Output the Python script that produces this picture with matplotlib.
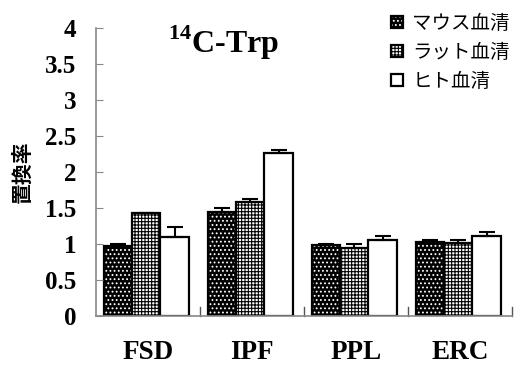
import matplotlib
matplotlib.use("Agg")
import matplotlib.pyplot as plt
import numpy as np
from matplotlib.legend_handler import HandlerTuple

categories = ["FSD", "IPF", "PPL", "ERC"]
series_names = ["マウス血清", "ラット血清", "ヒト血清"]
mouse = [0.97, 1.44, 0.98, 1.03]
mouse_err = [0.03, 0.06, 0.02, 0.025]
rat = [1.43, 1.59, 0.95, 1.02]
rat_err = [0.0, 0.03, 0.05, 0.03]
human = [1.10, 2.26, 1.05, 1.11]
human_err = [0.13, 0.05, 0.06, 0.06]
yticks = [0, 0.5, 1, 1.5, 2, 2.5, 3, 3.5, 4]
yticklabels = ["0", "0.5", "1", "1.5", "2", "2.5", "3", "3.5", "4"]

plt.rcParams['hatch.linewidth'] = 0.8
plt.rcParams['mathtext.fontset'] = 'custom'
plt.rcParams['mathtext.bf'] = 'Liberation Serif:bold'
plt.rcParams['mathtext.rm'] = 'Liberation Serif:bold'
serif = ['Liberation Serif', 'DejaVu Serif']
cjk = ['Noto Sans CJK JP', 'DejaVu Sans']

fig = plt.figure(figsize=(5.17, 3.67), dpi=100)
ax = fig.add_axes([96/517, 51/367, 416/517, 288/367])

x = np.arange(len(categories))
w = 0.27
offs = [-w, 0, w]
handles = []
for vals, errs, off, kind in zip([mouse, rat, human], [mouse_err, rat_err, human_err], offs, ['m', 'r', 'h']):
    pos = x + off - 0.015
    if kind == 'm':
        b1 = ax.bar(pos, vals, w, facecolor='black', edgecolor='white', hatch='....', linewidth=0)
    elif kind == 'r':
        b1 = ax.bar(pos, vals, w, facecolor='white', edgecolor='black', hatch='+++++', linewidth=0)
    else:
        b1 = ax.bar(pos, vals, w, facecolor='white', linewidth=0)
    b2 = ax.bar(pos, vals, w, fill=False, edgecolor='black', linewidth=1.6)
    ax.errorbar(pos, vals, yerr=[np.zeros(len(errs)), errs], fmt='none', ecolor='black',
                elinewidth=1.5, capsize=5.5, capthick=1.5)
    handles.append((b1[0], b2[0]))

ax.set_xlim(-0.5, 3.5)
ax.set_ylim(0, 4)
ax.set_yticks(yticks)
ax.set_yticklabels(yticklabels, fontfamily=serif, fontweight='bold', fontsize=18)
ax.set_xticks(x)
ax.set_xticklabels(categories, fontfamily=serif, fontweight='bold', fontsize=19.5)
ax.tick_params(axis='x', length=0, pad=17)
ax.tick_params(axis='y', direction='in', length=5, color='#888888', pad=14)
for xb in [0.5, 1.5, 2.5, 3.5]:
    ax.plot([xb, xb], [0, 0.12], color='#555555', lw=1, clip_on=False)
for s in ['top', 'right']:
    ax.spines[s].set_visible(False)
for s in ['left', 'bottom']:
    ax.spines[s].set_color('#888888')
    ax.spines[s].set_linewidth(1.2)

ax.set_ylabel("置換率", fontfamily=cjk, fontsize=15, fontweight='bold', labelpad=9)

fig.text(224/517, 1 - 43/367, r"$^{\mathbf{14}}$C-Trp", fontfamily=serif, fontweight='bold',
         fontsize=23, ha='center', va='center')

leg = fig.legend(handles, series_names, loc='upper left', bbox_to_anchor=(391/517, 1 - 13/367),
                 frameon=False, prop={'family': cjk, 'size': 14},
                 handler_map={tuple: HandlerTuple(ndivide=1)},
                 handlelength=0.6, handleheight=0.6, handletextpad=0.5, labelspacing=0.4,
                 borderpad=0, borderaxespad=0)

fig.savefig("out.png", dpi=100)
